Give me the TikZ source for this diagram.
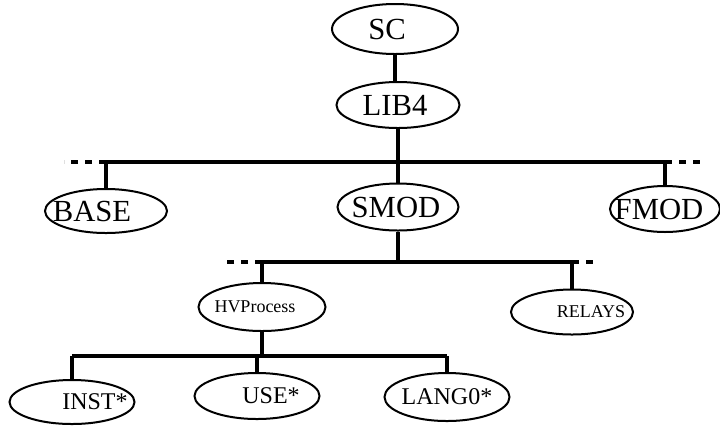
\documentclass[tikz,border=0pt]{standalone}
\usepackage{fontspec}
\setmainfont{Liberation Serif}
\usetikzlibrary{shapes.geometric}
\tikzset{
  oval/.style={draw, ellipse, line width=1.5pt, inner sep=0pt},
  bigtxt/.style={font=\fontsize{23}{23}\selectfont},
  midtxt/.style={font=\fontsize{18}{18}\selectfont},
  smalltxt/.style={font=\fontsize{13.5}{13.5}\selectfont},
  link/.style={line width=2.4pt},
  more/.style={line width=2.4pt, dash pattern=on 5.5pt off 5pt}
}
\begin{document}
\begin{tikzpicture}[x=0.75pt,y=0.75pt,yscale=-1,xscale=1]
\useasboundingbox (0,0) rectangle (720,426);

%Shape: Ellipse
\node [oval, minimum width=94.5pt, minimum height=37.5pt, label={[bigtxt, xshift=-6pt]center:SC}] (sc) at (395,29) {};
%Shape: Ellipse
\node [oval, minimum width=92.25pt, minimum height=34.5pt, label={[bigtxt, xshift=-2.25pt]center:LIB4}] (lib) at (398,105) {};
%Shape: Ellipse
\node [oval, minimum width=91.5pt, minimum height=33pt, label={[bigtxt, xshift=-10.5pt]center:BASE}] (base) at (106,211) {};
%Shape: Ellipse
\node [oval, minimum width=90.75pt, minimum height=35.25pt, label={[bigtxt, xshift=-1.5pt]center:SMOD}] (smod) at (398,207) {};
%Shape: Ellipse
\node [oval, minimum width=82.5pt, minimum height=34.5pt, label={[bigtxt, xshift=-4.5pt]center:FMOD}] (fmod) at (665,209) {};
%Shape: Ellipse
\node [oval, minimum width=95.25pt, minimum height=36pt, label={[smalltxt, xshift=-5.25pt]center:HVProcess}] (hv) at (262,307) {};
%Shape: Ellipse
\node [oval, minimum width=91.5pt, minimum height=33.75pt, label={[smalltxt, xshift=14.25pt]center:RELAYS}] (relays) at (572,312) {};
%Shape: Ellipse
\node [oval, minimum width=93.75pt, minimum height=33pt, label={[midtxt, xshift=17.25pt]center:INST*}] (inst) at (72,402) {};
%Shape: Ellipse
\node [oval, minimum width=93.75pt, minimum height=34.5pt, label={[midtxt, xshift=10.5pt]center:USE*}] (use) at (257,396) {};
%Shape: Ellipse
\node [oval, minimum width=93.75pt, minimum height=36pt, label={[midtxt]center:LANG0*}] (lang) at (447,397) {};

\coordinate (b1) at (396,162);
\coordinate (b2) at (396,262);
\coordinate (b3) at (258,356);

%Straight Lines
\draw [link] (sc.south) -- (sc.south |- lib.north);
%Straight Lines
\draw [link] (lib.south) -- (lib.south |- b1);
\draw [link] (base.north |- b1) -- (fmod.north |- b1);
\foreach \n in {base,smod,fmod}
  \draw [link] (\n.north |- b1) -- (\n.north);
\draw [more] (base.north |- b1) -- ++(-42,0);
\draw [more] (fmod.north |- b1) -- ++(40,0);

%Straight Lines
\draw [link] (smod.south) -- (smod.south |- b2);
\draw [link] (hv.north |- b2) -- (relays.north |- b2);
\foreach \n in {hv,relays}
  \draw [link] (\n.north |- b2) -- (\n.north);
\draw [more] (hv.north |- b2) -- ++(-40,0);
\draw [more] (relays.north |- b2) -- ++(27,0);

%Straight Lines
\draw [link] (hv.south) -- (hv.south |- b3);
\draw [link] (inst.north |- b3) -- (lang.north |- b3);
\foreach \n in {inst,use,lang}
  \draw [link] (\n.north |- b3) -- (\n.north);

\end{tikzpicture}
\end{document}
